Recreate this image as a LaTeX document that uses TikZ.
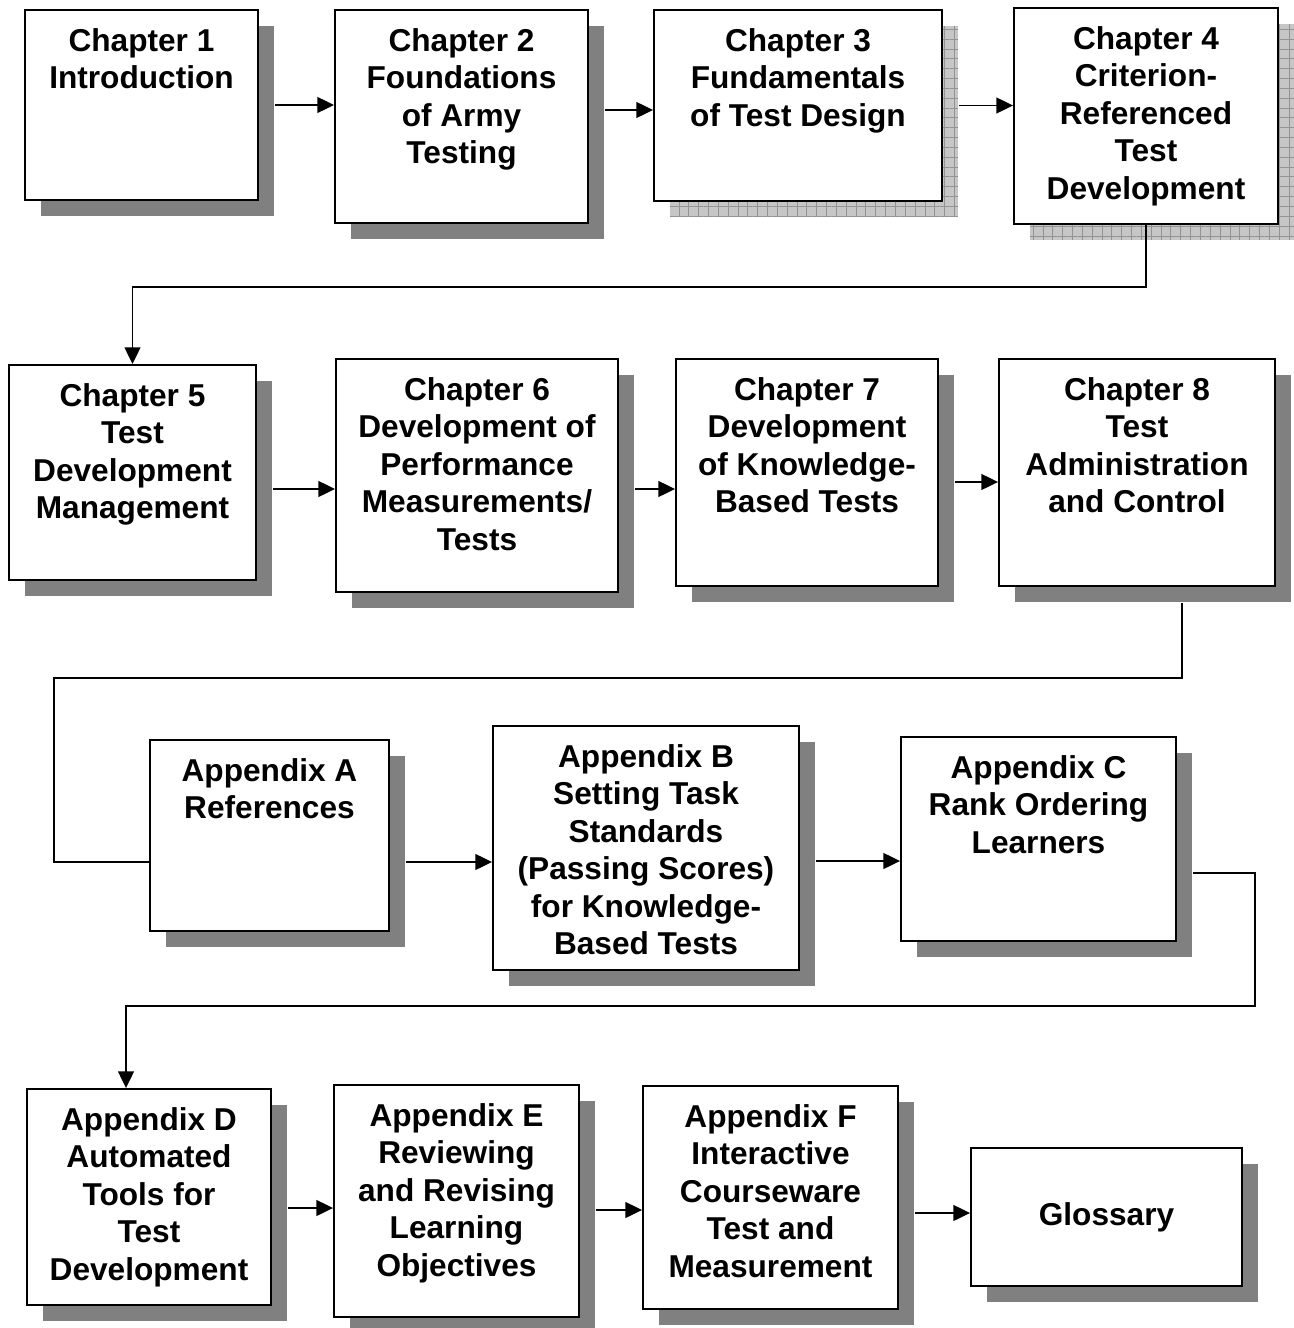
\documentclass[tikz,border=0pt]{standalone}
\usepackage{fontspec}
\setmainfont{Liberation Sans}
\usetikzlibrary{shadows,patterns.meta,arrows.meta}

\begin{document}
\begin{tikzpicture}[
    x=0.02cm, y=-0.02cm,
    box/.style={rectangle, draw=black, line width=1.1pt, fill=white, inner sep=0pt},
    greyshadow/.style={drop shadow={shadow xshift=0.32cm, shadow yshift=-0.32cm, fill=gray, opacity=1}},
    gridshadow/.style={drop shadow={shadow xshift=0.32cm, shadow yshift=-0.32cm, fill=gray!45, opacity=1},
        drop shadow={shadow xshift=0.32cm, shadow yshift=-0.32cm, opacity=1, pattern={Hatch[distance=5.6pt, line width=0.4pt]}, pattern color=gray!85}},
    boxtext/.style={font=\fontsize{18}{21.3}\selectfont\bfseries, align=center, anchor=north, inner sep=0pt},
    link/.style={line width=1pt},
    arrow/.style={link, -{Triangle[length=9.5pt, width=9pt]}}
]
\useasboundingbox (0,0) rectangle (1294,1328);

% Row 1: chapters 1-4
\node[box, greyshadow, minimum width=4.66cm, minimum height=3.8cm] (ch1) at (141.5,105) {};
\node[box, greyshadow, minimum width=5.06cm, minimum height=4.26cm] (ch2) at (461.5,116.5) {};
\node[box, gridshadow, minimum width=5.76cm, minimum height=3.82cm] (ch3) at (798,105.5) {};
\node[box, gridshadow, minimum width=5.28cm, minimum height=4.32cm] (ch4) at (1146,116) {};
\node[boxtext] (ch1t) at ([yshift=-0.38cm]ch1.north) {Chapter 1\\Introduction};
\node[boxtext] (ch2t) at ([yshift=-0.38cm]ch2.north) {Chapter 2\\Foundations\\of Army\\Testing};
\node[boxtext] (ch3t) at ([yshift=-0.38cm]ch3.north) {Chapter 3\\Fundamentals\\of Test Design};
\node[boxtext] (ch4t) at ([yshift=-0.38cm]ch4.north) {Chapter 4\\Criterion-\\Referenced\\Test\\Development};

% Row 2: chapters 5-8
\node[box, greyshadow, minimum width=4.94cm, minimum height=4.3cm] (ch5) at (132.5,472.5) {};
\node[box, greyshadow, minimum width=5.64cm, minimum height=4.66cm] (ch6) at (477,475.5) {};
\node[box, greyshadow, minimum width=5.24cm, minimum height=4.54cm] (ch7) at (807,472.5) {};
\node[box, greyshadow, minimum width=5.52cm, minimum height=4.54cm] (ch8) at (1137,472.5) {};
\node[boxtext] (ch5t) at ([yshift=-0.38cm]ch5.north) {Chapter 5\\Test\\Development\\Management};
\node[boxtext] (ch6t) at ([yshift=-0.38cm]ch6.north) {Chapter 6\\Development of\\Performance\\Measurements/\\Tests};
\node[boxtext] (ch7t) at ([yshift=-0.38cm]ch7.north) {Chapter 7\\Development\\of Knowledge-\\Based Tests};
\node[boxtext] (ch8t) at ([yshift=-0.38cm]ch8.north) {Chapter 8\\Test\\Administration\\and Control};

% Row 3: appendices A-C
\node[box, greyshadow, minimum width=4.78cm, minimum height=3.82cm] (appA) at (269.5,835.5) {};
\node[box, greyshadow, minimum width=6.12cm, minimum height=4.88cm] (appB) at (646,848) {};
\node[box, greyshadow, minimum width=5.5cm, minimum height=4.08cm] (appC) at (1038.5,839) {};
\node[boxtext] (appAt) at ([yshift=-0.38cm]appA.north) {Appendix A\\References};
\node[boxtext] (appBt) at ([yshift=-0.38cm]appB.north) {Appendix B\\Setting Task\\Standards\\(Passing Scores)\\for Knowledge-\\Based Tests};
\node[boxtext] (appCt) at ([yshift=-0.38cm]appC.north) {Appendix C\\Rank Ordering\\Learners};

% Row 4: appendices D-F and glossary
\node[box, greyshadow, minimum width=4.88cm, minimum height=4.32cm] (appD) at (149,1197) {};
\node[box, greyshadow, minimum width=4.9cm, minimum height=4.64cm] (appE) at (456.5,1201) {};
\node[box, greyshadow, minimum width=5.1cm, minimum height=4.46cm] (appF) at (770.5,1197.5) {};
\node[box, greyshadow, minimum width=5.42cm, minimum height=2.76cm] (gloss) at (1106.5,1217) {};
\node[boxtext] (appDt) at ([yshift=-0.38cm]appD.north) {Appendix D\\Automated\\Tools for\\Test\\Development};
\node[boxtext] (appEt) at ([yshift=-0.38cm]appE.north) {Appendix E\\Reviewing\\and Revising\\Learning\\Objectives};
\node[boxtext] (appFt) at ([yshift=-0.38cm]appF.north) {Appendix F\\Interactive\\Courseware\\Test and\\Measurement};
\node[boxtext, anchor=center] (glosst) at (gloss.center) {Glossary};

% Connectors
\draw[arrow] ([xshift=0.32cm]ch1.east) -- (ch1.east -| ch2.west);
\draw[arrow] ([xshift=0.32cm, yshift=0.13cm]ch2.east) -- ([yshift=0.13cm]ch2.east -| ch3.west);
\draw[arrow] ([xshift=0.32cm]ch3.east) -- (ch3.east -| ch4.west);
\draw[arrow] (ch4.south) -- ++(0,62) -| (ch5.north);

\draw[arrow] ([xshift=0.32cm, yshift=-0.33cm]ch5.east) -- ([yshift=-0.33cm]ch5.east -| ch6.west);
\draw[arrow] ([xshift=0.32cm, yshift=-0.27cm]ch6.east) -- ([yshift=-0.27cm]ch6.east -| ch7.west);
\draw[arrow] ([xshift=0.32cm, yshift=-0.19cm]ch7.east) -- ([yshift=-0.19cm]ch7.east -| ch8.west);
\draw[link] ([xshift=0.9cm, yshift=-0.32cm]ch8.south) -- ++(0,75) -- ++(-1128,0) |- ([yshift=-0.53cm]appA.west);

\draw[arrow] ([xshift=0.32cm, yshift=-0.53cm]appA.east) -- ([yshift=-0.53cm]appA.east -| appB.west);
\draw[arrow] ([xshift=0.32cm, yshift=-0.26cm]appB.east) -- ([yshift=-0.26cm]appB.east -| appC.west);
\draw[arrow] ([xshift=0.32cm, yshift=-0.68cm]appC.east) -- ++(62,0) -- ++(0,133) -| ([xshift=-0.46cm]appD.north);

\draw[arrow] ([xshift=0.32cm, yshift=-0.22cm]appD.east) -- ([yshift=-0.22cm]appD.east -| appE.west);
\draw[arrow] ([xshift=0.32cm, yshift=-0.18cm]appE.east) -- ([yshift=-0.18cm]appE.east -| appF.west);
\draw[arrow] ([xshift=0.32cm, yshift=-0.31cm]appF.east) -- ([yshift=-0.31cm]appF.east -| gloss.west);

\end{tikzpicture}
\end{document}
